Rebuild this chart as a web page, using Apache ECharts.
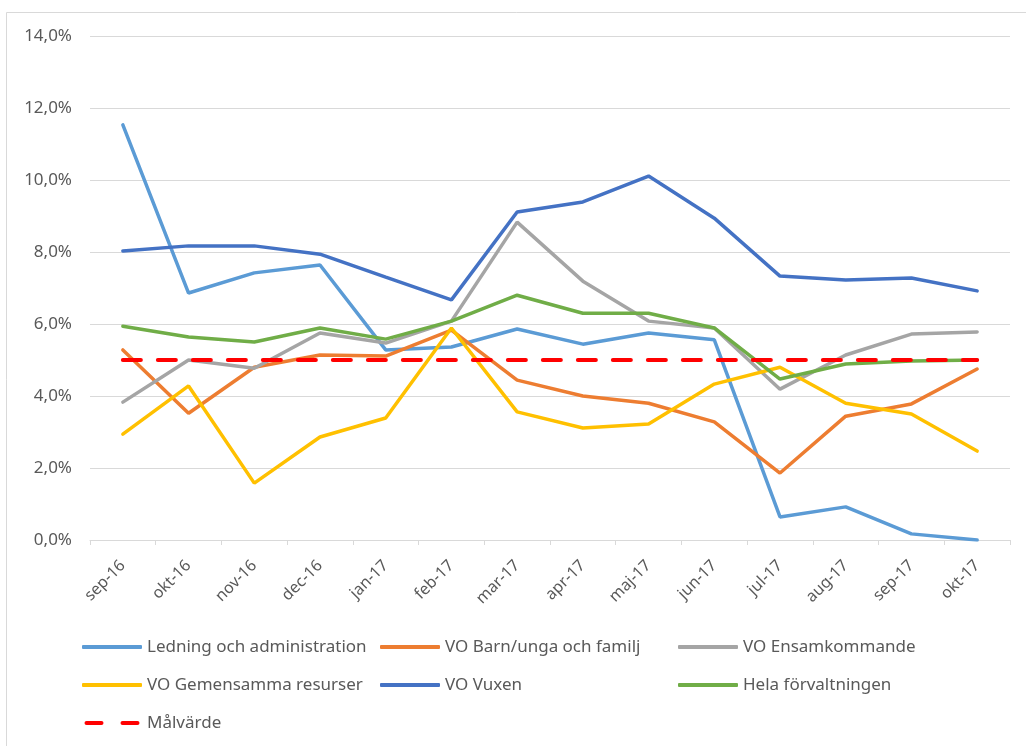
<style>
  body { margin: 0; }
</style>
<script src="https://cdn.jsdelivr.net/npm/echarts@6.0.0/dist/echarts.min.js"></script>

<div id="chart" style="width: 1026px; height: 746px;"></div>

<script>
  const months = ['sep-16', 'okt-16', 'nov-16', 'dec-16', 'jan-17', 'feb-17', 'mar-17',
    'apr-17', 'maj-17', 'jun-17', 'jul-17', 'aug-17', 'sep-17', 'okt-17'];

  // sick-leave share in percent
  const ledning = [11.53, 6.86, 7.42, 7.64, 5.28, 5.36, 5.86, 5.44, 5.75, 5.56, 0.64, 0.92, 0.17, 0.0];
  const barn = [5.28, 3.52, 4.8, 5.14, 5.11, 5.83, 4.44, 4.0, 3.8, 3.28, 1.86, 3.44, 3.78, 4.75];
  const ensam = [3.83, 5.0, 4.77, 5.75, 5.47, 6.08, 8.83, 7.19, 6.08, 5.89, 4.19, 5.14, 5.72, 5.78];
  const gemensamma = [2.94, 4.28, 1.58, 2.86, 3.39, 5.89, 3.56, 3.11, 3.22, 4.33, 4.8, 3.8, 3.5, 2.47];
  const vuxen = [8.03, 8.17, 8.17, 7.94, 7.3, 6.67, 9.11, 9.39, 10.11, 8.94, 7.33, 7.22, 7.28, 6.92];
  const hela = [5.94, 5.64, 5.5, 5.89, 5.58, 6.08, 6.8, 6.3, 6.3, 5.89, 4.47, 4.89, 4.97, 5.0];
  const malvarde = [5, 5, 5, 5, 5, 5, 5, 5, 5, 5, 5, 5, 5, 5];

  const names = ['Ledning och administration', 'VO Barn/unga och familj', 'VO Ensamkommande',
    'VO Gemensamma resurser', 'VO Vuxen', 'Hela förvaltningen', 'Målvärde'];
  const colors = ['#5B9BD5', '#ED7D31', '#A5A5A5', '#FFC000', '#4472C4', '#70AD47', '#FF0000'];
  const values = [ledning, barn, ensam, gemensamma, vuxen, hela, malvarde];

  const font = 'Noto Sans';
  const textColor = '#595959';
  const dashIcon = 'path://M2,0H17A2,2 0 0 1 17,4H2A2,2 0 0 1 2,0Z M38,0H53A2,2 0 0 1 53,4H38A2,2 0 0 1 38,0Z';

  const legendBase = {
    orient: 'vertical',
    top: 632,
    icon: 'roundRect',
    itemWidth: 60,
    itemHeight: 4,
    itemGap: 18,
    textStyle: { fontFamily: font, fontSize: 17, color: textColor, lineHeight: 20 }
  };

  const chart = echarts.init(document.getElementById('chart'), null, { renderer: 'canvas' });

  chart.setOption({
    animation: false,
    backgroundColor: '#fff',
    graphic: [{
      type: 'rect',
      shape: { x: 6.5, y: 12.5, width: 1040, height: 760 },
      style: { fill: 'none', stroke: '#d9d9d9', lineWidth: 1 },
      silent: true
    }],
    grid: { left: 90, right: 16, top: 36, bottom: 206 },
    legend: [
      Object.assign({}, legendBase, {
        left: 77,
        data: [names[0], names[3], { name: names[6], icon: dashIcon, itemStyle: { color: colors[6] } }]
      }),
      Object.assign({}, legendBase, { left: 375, data: [names[1], names[4]] }),
      Object.assign({}, legendBase, { left: 673, data: [names[2], names[5]] })
    ],
    xAxis: {
      type: 'category',
      data: months,
      boundaryGap: true,
      axisLine: { lineStyle: { color: '#d9d9d9', width: 1 } },
      axisTick: { show: true, length: 5, lineStyle: { color: '#d9d9d9' } },
      axisLabel: {
        rotate: 45,
        margin: 23,
        fontFamily: font,
        fontSize: 16,
        color: textColor
      }
    },
    yAxis: {
      type: 'value',
      min: 0,
      max: 14,
      interval: 2,
      axisLine: { show: false },
      axisTick: { show: false },
      splitLine: { lineStyle: { color: '#d9d9d9', width: 1 } },
      axisLabel: {
        margin: 18,
        fontFamily: font,
        fontSize: 17,
        color: textColor,
        formatter: (v) => v.toFixed(1).replace('.', ',') + '%'
      }
    },
    series: names.map((name, i) => ({
      name: name,
      type: 'line',
      data: values[i],
      symbol: 'none',
      color: colors[i],
      lineStyle: {
        color: colors[i],
        width: i === 6 ? 4 : 3.5,
        type: i === 6 ? [18, 17] : 'solid',
        cap: 'round'
      }
    }))
  });
</script>
